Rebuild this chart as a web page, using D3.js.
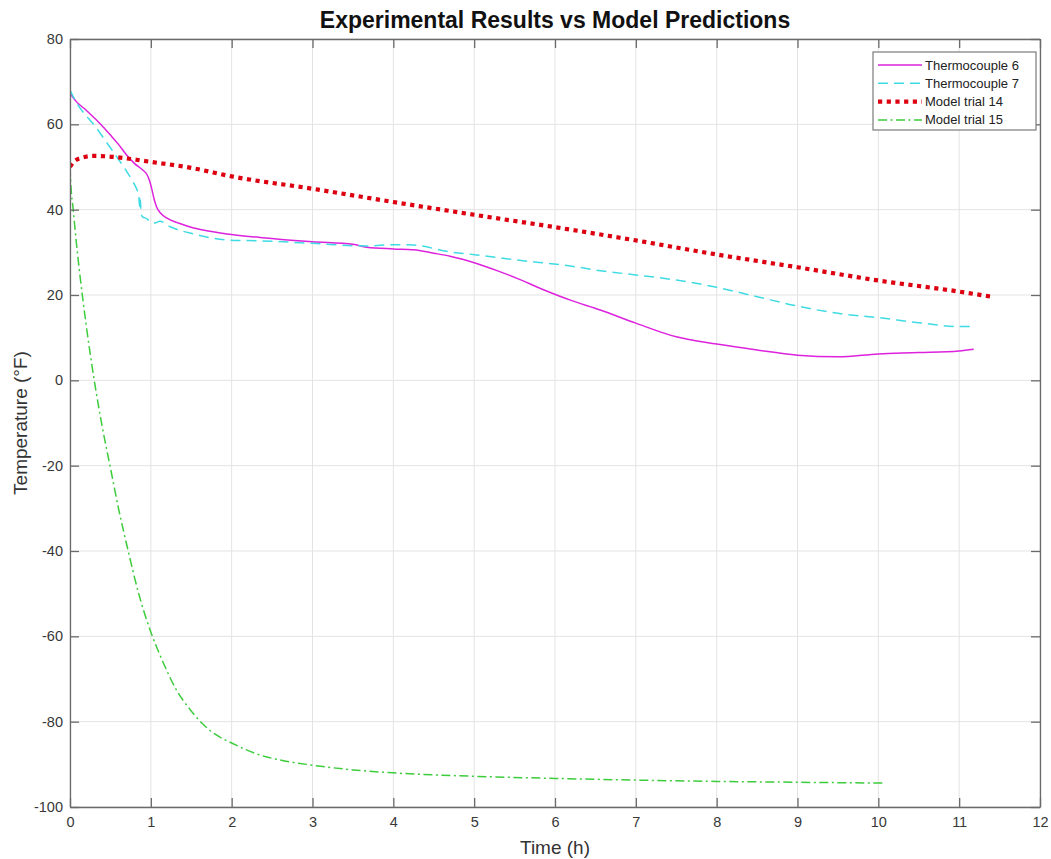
<!DOCTYPE html>
<html>
<head>
<meta charset="utf-8">
<script src="https://cdn.jsdelivr.net/npm/d3@7"></script>
<style>
  html, body { margin: 0; padding: 0; background: #fff; }
  svg { display: block; font-family: "Liberation Sans", Arial, Helvetica, sans-serif; }
</style>
</head>
<body>
<svg id="chart" width="1051" height="859"></svg>
<script>
// Measured temperatures and model predictions: [time (h), temperature (°F)]
const thermocouple6 = [
  [0, 67.5], [0.04, 66.2], [0.07, 65.5], [0.2, 63.3], [0.37, 60.2], [0.5, 57.5],
  [0.6, 55.3], [0.7, 52.8], [0.8, 50.8], [0.9, 49.3], [0.95, 48.3], [0.98, 47],
  [1.01, 45], [1.04, 42.5], [1.07, 40.7], [1.12, 39.2], [1.2, 38], [1.35, 36.8],
  [1.53, 35.7], [1.75, 34.9], [1.94, 34.3], [2.35, 33.5], [3, 32.5], [3.5, 31.9],
  [3.67, 31.2], [4, 30.8], [4.25, 30.6], [4.5, 29.8], [4.7, 29.1], [5.03, 27.4],
  [5.3, 25.6], [5.53, 23.9], [5.85, 21.3], [6.19, 18.8], [6.56, 16.5], [7, 13.4],
  [7.5, 10.2], [8, 8.5], [8.5, 7.1], [9, 5.9], [9.5, 5.5], [10, 6.2], [10.5, 6.5],
  [11, 6.9], [11.18, 7.3]
];
const thermocouple7 = [
  [0, 68], [0.04, 66.5], [0.1, 64.5], [0.2, 62], [0.3, 59.8], [0.4, 57.2], [0.5, 54.5],
  [0.6, 51.8], [0.7, 49], [0.78, 46.5], [0.83, 44.6], [0.85, 43.5], [0.86, 40.8],
  [0.87, 42.5], [0.88, 39], [0.9, 38.3], [0.95, 37.9], [1.0, 37], [1.05, 36.9],
  [1.11, 37.3], [1.24, 36], [1.53, 34.3], [1.94, 32.9], [2.35, 32.7], [3, 32.1],
  [3.67, 31.5], [4, 31.8], [4.25, 31.7], [4.7, 30.1], [5.03, 29.4], [5.53, 28.2],
  [6.19, 26.8], [6.56, 25.7], [7, 24.7], [7.5, 23.5], [8, 21.8], [8.5, 19.6],
  [9, 17.4], [9.5, 15.7], [10, 14.7], [10.5, 13.5], [11, 12.6], [11.19, 12.6]
];
const modelTrial14 = [
  [0, 50], [0.05, 51.3], [0.15, 52.2], [0.3, 52.6], [0.45, 52.5], [0.7, 52],
  [1, 51.2], [1.5, 49.8], [2, 47.8], [3, 44.9], [4, 41.8], [5, 38.8], [6, 35.9],
  [7, 32.8], [8, 29.5], [9, 26.5], [10, 23.4], [11, 20.8], [11.4, 19.6]
];
const modelTrial15 = [
  [0, 50], [0.01, 46], [0.04, 40], [0.08, 32], [0.13, 23.5], [0.2, 13], [0.3, 0],
  [0.4, -11], [0.5, -20.5], [0.6, -30], [0.72, -40], [0.85, -50], [1.0, -59],
  [1.15, -66], [1.3, -72], [1.5, -77.5], [1.64, -80.5], [1.8, -83], [2, -85],
  [2.3, -87.5], [2.6, -89], [3, -90.2], [3.5, -91.3], [4, -92], [5, -92.8],
  [6, -93.3], [7, -93.7], [8, -94], [9, -94.2], [10.08, -94.4]
];

const seriesNames = ["Thermocouple 6", "Thermocouple 7", "Model trial 14", "Model trial 15"];
const xTicks = d3.range(0, 13, 1);
const yTicks = d3.range(-100, 81, 20);

const series = [
  { name: seriesNames[0], data: thermocouple6, color: "#dd22dd", width: 1.5, dash: null },
  { name: seriesNames[1], data: thermocouple7, color: "#3fdbe3", width: 1.5, dash: "10,6" },
  { name: seriesNames[2], data: modelTrial14, color: "#dd0011", width: 4.2, dash: "4.2,4.5" },
  { name: seriesNames[3], data: modelTrial15, color: "#3ccc3c", width: 1.5, dash: "9,3.5,2,3.5" }
];

const svg = d3.select("#chart");
const plot = { left: 70, right: 1040, top: 39, bottom: 807 };

const x = d3.scaleLinear().domain([0, 12]).range([plot.left, plot.right]);
const y = d3.scaleLinear().domain([-100, 80]).range([plot.bottom, plot.top]);

// plain hyphen for negative tick labels
const fmt = d => String(d);

// grid
const grid = svg.append("g").attr("stroke", "#e3e3e3").attr("stroke-width", 1);
grid.selectAll("line.gx").data(xTicks).join("line")
  .attr("x1", d => x(d)).attr("x2", d => x(d))
  .attr("y1", plot.top).attr("y2", plot.bottom);
grid.selectAll("line.gy").data(yTicks).join("line")
  .attr("x1", plot.left).attr("x2", plot.right)
  .attr("y1", d => y(d)).attr("y2", d => y(d));

// data lines
const line = d3.line().x(d => x(d[0])).y(d => y(d[1])).curve(d3.curveMonotoneX);
svg.append("clipPath").attr("id", "plotclip").append("rect")
  .attr("x", plot.left).attr("y", plot.top)
  .attr("width", plot.right - plot.left).attr("height", plot.bottom - plot.top);
const lines = svg.append("g").attr("clip-path", "url(#plotclip)");
series.forEach(s => {
  lines.append("path")
    .datum(s.data)
    .attr("d", line)
    .attr("fill", "none")
    .attr("stroke", s.color)
    .attr("stroke-width", s.width)
    .attr("stroke-dasharray", s.dash)
    .attr("stroke-linejoin", "round");
});

// axes with inward ticks on all four sides
const tickLen = 9;
const axisColor = "#6a6a6a";
const axBottom = svg.append("g").attr("transform", `translate(0,${plot.bottom})`)
  .call(d3.axisBottom(x).tickValues(xTicks).tickFormat(fmt).tickSizeInner(-tickLen).tickSizeOuter(0).tickPadding(10));
const axTop = svg.append("g").attr("transform", `translate(0,${plot.top})`)
  .call(d3.axisTop(x).tickValues(xTicks).tickSizeInner(-tickLen).tickSizeOuter(0).tickFormat(""));
const axLeft = svg.append("g").attr("transform", `translate(${plot.left},0)`)
  .call(d3.axisLeft(y).tickValues(yTicks).tickFormat(fmt).tickSizeInner(-tickLen).tickSizeOuter(0).tickPadding(7));
const axRight = svg.append("g").attr("transform", `translate(${plot.right},0)`)
  .call(d3.axisRight(y).tickValues(yTicks).tickSizeInner(-tickLen).tickSizeOuter(0).tickFormat(""));

[axBottom, axTop, axLeft, axRight].forEach(a => {
  a.select(".domain").attr("stroke", axisColor).attr("stroke-width", 1.3);
  a.selectAll(".tick line").attr("stroke", axisColor).attr("stroke-width", 1.3);
  a.selectAll(".tick text")
    .attr("fill", "#383838")
    .attr("font-size", 14.5)
    .attr("font-family", "\"Liberation Sans\", Arial, sans-serif");
});

// title and axis labels
svg.append("text")
  .attr("x", (plot.left + plot.right) / 2).attr("y", 28)
  .attr("text-anchor", "middle")
  .attr("font-size", 23).attr("font-weight", "bold").attr("fill", "#111")
  .text("Experimental Results vs Model Predictions");

svg.append("text")
  .attr("x", (plot.left + plot.right) / 2).attr("y", 854)
  .attr("text-anchor", "middle")
  .attr("font-size", 19).attr("fill", "#333")
  .text("Time (h)");

svg.append("text")
  .attr("transform", `translate(27,${(plot.top + plot.bottom) / 2}) rotate(-90)`)
  .attr("text-anchor", "middle")
  .attr("font-size", 19).attr("fill", "#333")
  .text("Temperature (°F)");

// legend
const legend = svg.append("g").attr("transform", "translate(873,52)");
legend.append("rect")
  .attr("width", 163).attr("height", 78)
  .attr("fill", "#fff").attr("stroke", "#7a7a7a").attr("stroke-width", 1.2);
series.forEach((s, i) => {
  const cy = 13 + i * 18.3;
  legend.append("line")
    .attr("x1", 5).attr("x2", 49).attr("y1", cy).attr("y2", cy)
    .attr("stroke", s.color)
    .attr("stroke-width", s.width)
    .attr("stroke-dasharray", s.dash);
  legend.append("text")
    .attr("x", 52).attr("y", cy).attr("dy", "0.35em")
    .attr("font-size", 13).attr("fill", "#222")
    .text(s.name);
});
</script>
</body>
</html>
